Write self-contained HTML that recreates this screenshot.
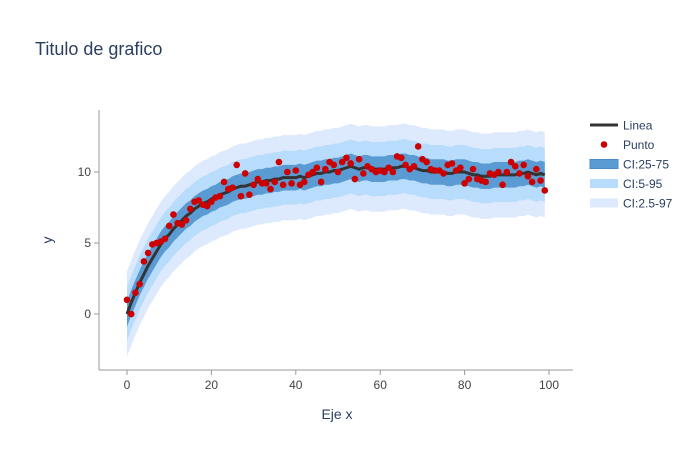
<!DOCTYPE html>
<html><head><meta charset="utf-8">
<style>
body{margin:0;background:#fff;font-family:"Liberation Sans",sans-serif;}
svg text{font-family:"Liberation Sans",sans-serif;}
</style></head>
<body>
<svg id="chart" width="700" height="450">
<text x="35" y="55" font-size="18" fill="#2a3f5f">Titulo de grafico</text>
<g id="bands"></g><g id="lineg"></g><g id="pts"></g><g id="axes"></g>
<text x="337" y="419" font-size="14" fill="#2a3f5f" text-anchor="middle">Eje x</text>
<text transform="translate(52,240) rotate(-90)" font-size="14" fill="#2a3f5f" text-anchor="middle">y</text>
<g id="legend"></g>
</svg>
<script>
const xs=[...Array(100).keys()];
const lineVals=[0,0.8,1.5,2.2,2.8,3.4,3.9,4.4,4.9,5.3,5.6,6.0,6.3,6.6,6.9,7.1,7.4,7.6,7.8,7.9,
8.1,8.2,8.4,8.5,8.6,8.8,8.9,9.0,9.0,9.1,9.2,9.3,9.3,9.4,9.4,9.5,9.5,9.6,9.6,9.6,
9.6,9.7,9.6,9.7,9.8,9.9,9.9,10.0,10.0,10.1,10.1,10.2,10.3,10.4,10.3,10.2,10.3,10.3,10.2,10.2,
10.2,10.2,10.3,10.3,10.3,10.4,10.4,10.3,10.3,10.2,10.1,10.1,10.0,10.0,10.0,10.0,9.9,9.9,10.0,10.0,
10.0,9.9,9.8,9.8,9.7,9.7,9.7,9.8,9.8,9.8,9.8,9.8,9.8,9.9,9.9,10.0,9.9,9.8,9.9,9.8];
const pointVals=[1.0,0.0,1.5,2.1,3.7,4.3,4.9,5.0,5.1,5.3,6.2,7.0,6.4,6.3,6.6,7.4,7.9,8.0,7.7,7.6,
7.9,8.2,8.3,9.3,8.8,8.9,10.5,8.3,9.9,8.4,9.1,9.5,9.2,9.2,8.8,9.3,10.7,9.1,10.0,9.2,
10.1,9.1,9.3,9.8,10.0,10.3,9.3,10.2,10.7,10.5,10.0,10.7,11.0,10.6,9.5,10.9,9.9,10.4,10.2,10.0,
10.1,10.0,10.3,10.0,11.1,11.0,10.5,10.2,10.4,11.8,10.9,10.7,10.2,10.1,10.1,9.9,10.5,10.6,10.1,10.3,
9.2,9.5,10.2,9.5,9.4,9.3,9.9,9.8,10.0,9.1,10.0,10.7,10.4,9.9,10.5,9.7,9.3,10.2,9.4,8.7];
const bandNames=["CI:2.5-97","CI:5-95","CI:25-75"];
const bandHalf=[3.0,1.9,0.9];
const bandColors=["#dde9fd","#b8dcfb","#5b9bd3"];
const xTicks=[0,20,40,60,80,100];
const yTicks=[0,5,10];
const X=v=>127+v*4.22, Y=v=>314-v*14.2;
const NS="http://www.w3.org/2000/svg";
function mk(t,p,a){const e=document.createElementNS(NS,t);for(const k in a)e.setAttribute(k,a[k]);p.appendChild(e);return e;}
const bands=document.getElementById('bands');
bandHalf.forEach((h,i)=>{
 let d=xs.map((x,j)=>(j?'L':'M')+X(x)+','+Y(lineVals[j]+h)).join('');
 for(let j=xs.length-1;j>=0;j--)d+='L'+X(xs[j])+','+Y(lineVals[j]-h);
 const p=mk('path',bands,{d:d+'Z',fill:bandColors[i]});
 
 
});
const lp=mk('path',document.getElementById('lineg'),{d:xs.map((x,j)=>(j?'L':'M')+X(x)+','+Y(lineVals[j])).join(''),fill:'none',stroke:'#333',"stroke-width":3,"stroke-linejoin":"round"});


const pts=document.getElementById('pts');
xs.forEach((x,j)=>{const c=mk('circle',pts,{cx:X(x),cy:Y(pointVals[j]),r:3.3,fill:'#cc0000'});
 
 });
const ax=document.getElementById('axes');
const xl=mk('line',ax,{x1:99,x2:573,y1:370,y2:370,stroke:'#999'});


const yl=mk('line',ax,{x1:99,x2:99,y1:110,y2:370,stroke:'#999'});


xTicks.forEach(t=>{mk('line',ax,{x1:X(t),x2:X(t),y1:370,y2:375,stroke:'#999'});
 const tx=mk('text',ax,{x:X(t),y:389,"font-size":12,fill:'#444',"text-anchor":"middle"});tx.textContent=t;
 
 });
yTicks.forEach(t=>{mk('line',ax,{x1:94,x2:99,y1:Y(t),y2:Y(t),stroke:'#999'});
 const tx=mk('text',ax,{x:91,y:Y(t)+4,"font-size":12,fill:'#444',"text-anchor":"end"});tx.textContent=t;
 
 });
const lg=document.getElementById('legend');
const items=[["Linea","line"],["Punto","pt"],["CI:25-75","b",2],["CI:5-95","b",1],["CI:2.5-97","b",0]];
items.forEach((it,i)=>{const y=125+i*19.5;
 const g=mk('g',lg,{});
 
 
 if(it[1]=='line')mk('line',g,{x1:590,x2:618,y1:y,y2:y,stroke:'#333',"stroke-width":3});
 else if(it[1]=='pt')mk('circle',g,{cx:604,cy:y,r:3.3,fill:'#cc0000'});
 else mk('rect',g,{x:590,y:y-4.5,width:28,height:9,fill:bandColors[it[2]],stroke:it[2]==2?'#4a8cc8':'none'});
 const t=mk('text',g,{x:623,y:y+4.5,"font-size":12,fill:'#2a3f5f'});t.textContent=it[0];});
</script>
</body></html>
